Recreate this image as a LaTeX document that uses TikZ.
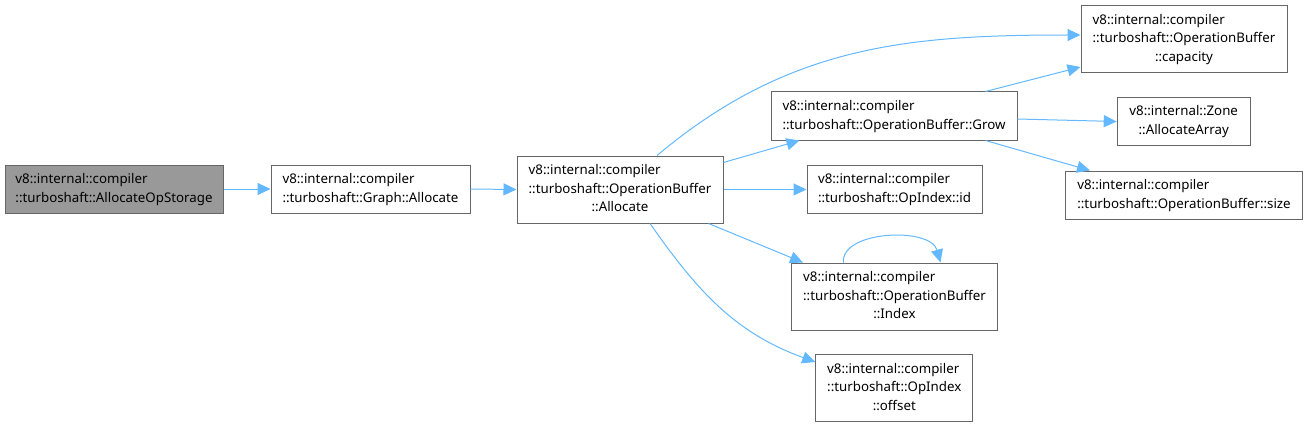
\documentclass[tikz,border=0pt]{standalone}
\usepackage{fontspec}
\setmainfont{Noto Sans}
\usetikzlibrary{arrows.meta}
\definecolor{edgec}{HTML}{63B8FF}
\definecolor{bord}{HTML}{666666}
\definecolor{hl}{HTML}{999999}
\newcommand{\lbl}[1]{{\fontsize{13.3}{18.7}\selectfont\begin{tabular}{@{}l@{}}#1\end{tabular}}}
\newcommand{\lastc}[1]{\multicolumn{1}{@{}c@{}}{#1}}
\tikzset{
  box/.style={draw=bord, line width=1pt, fill=white, inner sep=0pt},
  conn/.style={draw=edgec, line width=1pt, -{Triangle[length=13pt,width=12pt]}}
}
\begin{document}
\begin{tikzpicture}[x=1pt,y=-1pt]
\useasboundingbox (0,0) rectangle (1307,428);
\node[box, fill=hl, minimum width=218pt, minimum height=48pt] (n1) at (114,189) {\lbl{v8::internal::compiler\\::turboshaft::AllocateOpStorage}};
\node[box, minimum width=199pt, minimum height=48pt] (n2) at (370.5,189) {\lbl{v8::internal::compiler\\::turboshaft::Graph::Allocate}};
\node[box, minimum width=206pt, minimum height=67pt] (n3) at (620,189.5) {\lbl{v8::internal::compiler\\::turboshaft::OperationBuffer\\\lastc{::Allocate}}};
\node[box, minimum width=246pt, minimum height=48pt] (n4) at (894,116) {\lbl{v8::internal::compiler\\::turboshaft::OperationBuffer::Grow}};
\node[box, minimum width=175pt, minimum height=48pt] (n5) at (894.5,189.5) {\lbl{v8::internal::compiler\\::turboshaft::OpIndex::id}};
\node[box, minimum width=206pt, minimum height=67pt] (n6) at (894.5,296.5) {\lbl{v8::internal::compiler\\::turboshaft::OperationBuffer\\\lastc{::Index}}};
\node[box, minimum width=157pt, minimum height=67pt] (n7) at (894.3,388) {\lbl{v8::internal::compiler\\::turboshaft::OpIndex\\\lastc{::offset}}};
\node[box, minimum width=206pt, minimum height=67pt] (n8) at (1184,39) {\lbl{v8::internal::compiler\\::turboshaft::OperationBuffer\\\lastc{::capacity}}};
\node[box, minimum width=133pt, minimum height=48pt] (n9) at (1183.7,121.5) {\lbl{v8::internal::Zone\\\lastc{::AllocateArray}}};
\node[box, minimum width=237pt, minimum height=48pt] (n10) at (1184,195) {\lbl{v8::internal::compiler\\::turboshaft::OperationBuffer::size}};

\draw[conn] (n1.east) -- (n2.west);
\draw[conn] (n2.east) -- (n3.west);
\draw[conn] ([yshift=-7pt]n3.north east) -- ([xshift=29pt]n4.south west);
\draw[conn] ([xshift=37pt]n3.north) to[out=40,in=180] ([yshift=4pt]n8.west);
\draw[conn] ([xshift=-32pt]n4.north east) -- ([yshift=6pt]n8.south west);
\draw[conn] (n3.east) -- (n5.west);
\draw[conn] ([xshift=-15pt]n3.south east) -- ([xshift=12pt]n6.north west);
\draw[conn] ([xshift=30pt]n3.south) to[out=-55,in=160] ([yshift=-8pt]n7.north west);
\draw[conn] ([xshift=-51pt]n6.north) .. controls +(-3,-32) and +(-10,-36) .. ([xshift=46pt]n6.north);
\draw[conn] ([yshift=-3pt]n4.east) -- (n9.west);
\draw[conn] ([xshift=-32pt]n4.south east) -- ([xshift=25pt]n10.north west);
\end{tikzpicture}
\end{document}
